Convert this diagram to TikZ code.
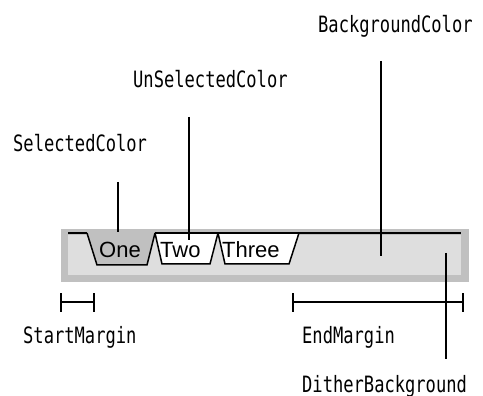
\documentclass[tikz,border=0pt]{standalone}
\usepackage{fontspec}
\newfontfamily\labfont[FakeStretch=0.76]{DejaVu Sans Mono}
\newfontfamily\tabfont{Liberation Sans}
\definecolor{stripgray}{HTML}{C0C0C0}
\definecolor{dither}{HTML}{DEDEDE}
\begin{document}
\begin{tikzpicture}[x=1pt,y=-1pt,
  lbl/.style={font={\labfont\fontsize{22.5}{22.5}\selectfont}, anchor=base west, inner sep=0pt},
  tabtxt/.style={font={\tabfont\fontsize{22}{22}\selectfont}, anchor=base west, inner sep=0pt},
  leader/.style={line width=1.5pt},
  tabline/.style={line width=1.5pt, line join=miter},
  topline/.style={line width=2pt},
]
\useasboundingbox (0,0) rectangle (483,396);

% strip and dithered background
\fill[stripgray] (61,229) rectangle (469,282);
\fill[dither] (68,235) rectangle (461,275);

% unselected tabs
\fill[white] (218,233) -- (225,264) -- (289,264) -- (299,233) -- cycle;
\draw[tabline] (218,233) -- (225,264) -- (289,264) -- (299,233);
\fill[white] (155,233) -- (162,264) -- (210,264) -- (218,233) -- cycle;
\draw[tabline] (155,233) -- (162,264) -- (210,264) -- (218,233);
% selected tab
\fill[stripgray] (87,231) -- (97,265) -- (147,265) -- (155,231) -- cycle;
\draw[tabline] (87,233) -- (97,265) -- (147,265) -- (155,233);
% top line
\draw[topline] (68,233) -- (87,233);
\draw[topline] (155,233) -- (461,233);

% tab captions
\node[tabtxt] (tOne) at (99,258) {One};
\node[tabtxt] (tTwo) at (160,258) {Two};
\node[tabtxt] (tThree) at (222,258) {Three};

% labels
\node[lbl] (bg) at (318,33) {BackgroundColor};
\node[lbl] (uns) at (133,88) {UnSelectedColor};
\node[lbl] (sel) at (13,152) {SelectedColor};
\node[lbl] (sm) at (23,343) {StartMargin};
\node[lbl] (em) at (302,343) {EndMargin};
\node[lbl] (db) at (302,392) {DitherBackground};

% leader lines
\coordinate (selA) at (118,182); \coordinate (selB) at (118,232);
\coordinate (unsA) at (189,117); \coordinate (unsB) at (189,240);
\coordinate (bgA) at (381,61);   \coordinate (bgB) at (381,256);
\coordinate (dbA) at (446,253);  \coordinate (dbB) at (446,359);
\draw[leader] (selA) -- (selB);
\draw[leader] (unsA) -- (unsB);
\draw[leader] (bgA) -- (bgB);
\draw[leader] (dbA) -- (dbB);

% margin markers
\coordinate (smL) at (61,302); \coordinate (smR) at (94,302);
\coordinate (emL) at (293,302); \coordinate (emR) at (463,302);
\draw[leader] (smL) -- (smR);
\draw[leader] (smL) ++(0,-9) -- ++(0,19);
\draw[leader] (smR) ++(0,-9) -- ++(0,19);
\draw[leader] (emL) -- (emR);
\draw[leader] (emL) ++(0,-9) -- ++(0,19);
\draw[leader] (emR) ++(0,-9) -- ++(0,19);
\end{tikzpicture}
\end{document}
